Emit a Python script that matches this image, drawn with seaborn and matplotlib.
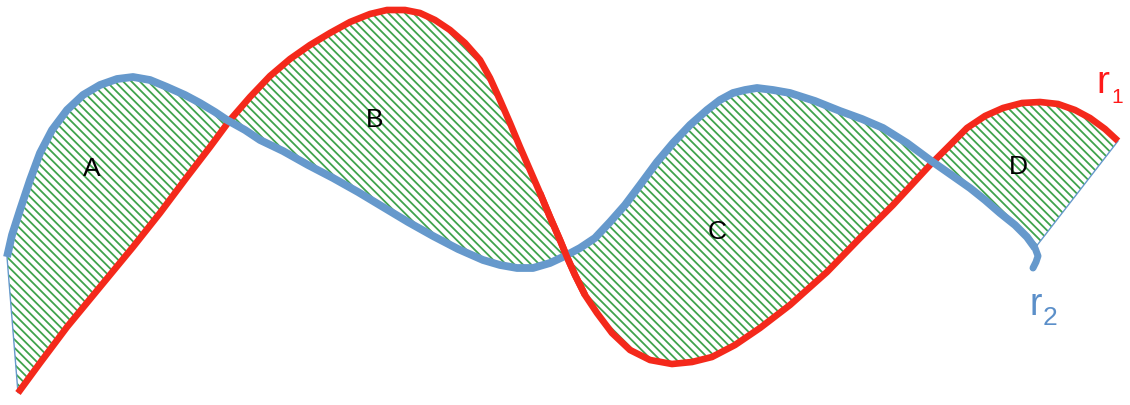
import numpy as np
import matplotlib
matplotlib.use("Agg")
import matplotlib.pyplot as plt
import seaborn as sns

# Curve r1 (red) in pixel units (y grows downwards)
red_x = [18, 40, 67, 100, 133, 160, 187, 210, 230, 250, 270, 290, 310, 330, 350, 370, 387, 405,
         420, 435, 450, 465, 480, 490, 500, 510, 520, 530, 540, 550, 560, 567, 575, 585, 597,
         612, 630, 650, 672, 692, 712, 735, 760, 790, 827, 860, 893, 930, 950, 967, 985, 1003,
         1022, 1040, 1058, 1075, 1090, 1105, 1118]
red_y = [393, 363, 327, 287, 247, 213, 177, 147, 120, 97, 76, 59, 45, 33, 22, 14, 10, 10,
         13, 20, 30, 43, 60, 78, 100, 123, 147, 170, 193, 217, 240, 257, 275, 295, 313,
         333, 350, 360, 364, 362, 357, 345, 328, 305, 272, 238, 205, 165, 145, 128, 116, 108,
         103, 102, 104, 110, 118, 129, 141]

# Curve r2 (blue)
blue_x = [7, 12, 20, 30, 40, 52, 67, 83, 100, 117, 133, 150, 167, 185, 200, 215, 227, 245,
          260, 283, 308, 333, 358, 383, 408, 433, 458, 483, 500, 517, 533, 550, 565, 580, 595,
          610, 625, 640, 657, 673, 690, 707, 720, 733, 745, 757, 773, 790, 815, 840, 862, 883,
          907, 930, 950, 970, 985, 1000, 1015, 1027, 1035]
blue_y = [257, 235, 210, 180, 153, 130, 110, 95, 85, 79, 77, 80, 87, 95, 103, 112, 120, 130,
          140, 151, 165, 178, 192, 207, 222, 236, 249, 260, 265, 268, 268, 263, 256, 248, 238,
          222, 205, 185, 162, 143, 125, 110, 100, 93, 90, 88, 90, 93, 101, 111, 119, 128,
          143, 160, 174, 188, 200, 213, 225, 237, 248]

# little hook at the end of r2
hook_x = [1035, 1038, 1036, 1033]
hook_y = [248, 256, 262, 268]

region_labels = ["A", "B", "C", "D"]
label_x = [92, 375, 717, 1018]
label_y = [169, 120, 232, 167]

RED = "#F4291B"
BLUE = "#6699CC"
GREEN = "#3FA34D"

sns.set_theme(style="white")
plt.rcParams["font.family"] = ["Liberation Sans", "DejaVu Sans"]
plt.rcParams["hatch.linewidth"] = 1.3

fig = plt.figure(figsize=(11.3, 4.05), dpi=100)
ax = fig.add_axes([0, 0, 1, 1])

# Hatched area between the two curves (closed polygon: r1 forward, r2 back)
poly_x = np.concatenate([red_x, blue_x[::-1]])
poly_y = np.concatenate([red_y, blue_y[::-1]])
ax.fill(poly_x, poly_y, facecolor="none", edgecolor=GREEN, hatch="\\\\\\\\", linewidth=0, zorder=1)
ax.fill(poly_x, poly_y, facecolor="none", edgecolor=BLUE, linewidth=1.0, zorder=2)

sns.lineplot(x=red_x, y=red_y, sort=False, estimator=None, color=RED, linewidth=4.8,
             solid_joinstyle="round", solid_capstyle="butt", ax=ax, zorder=3)
sns.lineplot(x=blue_x, y=blue_y, sort=False, estimator=None, color=BLUE, linewidth=5.6,
             solid_joinstyle="round", solid_capstyle="butt", ax=ax, zorder=4)
sns.lineplot(x=hook_x, y=hook_y, sort=False, estimator=None, color=BLUE, linewidth=5.0,
             solid_joinstyle="round", solid_capstyle="round", ax=ax, zorder=4)

# red passes over blue at the B/C crossing
rx = np.array(red_x)
ry = np.array(red_y)
seg = (rx >= 540) & (rx <= 590)
sns.lineplot(x=rx[seg], y=ry[seg], sort=False, estimator=None, color=RED, linewidth=4.8,
             solid_joinstyle="round", solid_capstyle="butt", ax=ax, zorder=5)

for lab, x, y in zip(region_labels, label_x, label_y):
    ax.text(x, y, lab, fontsize=19, color="black", ha="center", va="center", zorder=6)

# curve names with subscripts
ax.text(1096, 93, "r", fontsize=28, color="#FF1A1A", ha="left", va="baseline")
ax.text(1111, 103, "1", fontsize=15, color="#FF1A1A", ha="left", va="baseline")
ax.text(1029, 315, "r", fontsize=27, color="#5B8FC9", ha="left", va="baseline")
ax.text(1043, 325, "2", fontsize=19, color="#5B8FC9", ha="left", va="baseline")

ax.set_xlim(0, 1130)
ax.set_ylim(405, 0)
ax.axis("off")

fig.savefig("out.png", dpi=100, facecolor="white")
